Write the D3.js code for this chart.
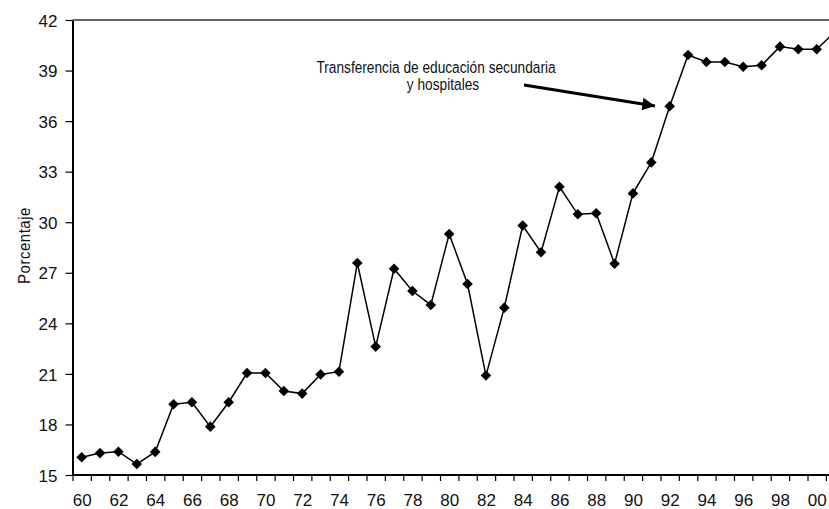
<!DOCTYPE html>
<html>
<head>
<meta charset="utf-8">
<script src="https://cdn.jsdelivr.net/npm/d3@7"></script>
<style>
  body { margin: 0; background: #fff; }
  svg { display: block; }
  .tick text { font-family: "Liberation Sans", Arial, sans-serif; font-size: 17px; fill: #111; }
  .lbl { font-family: "Liberation Sans", Arial, sans-serif; fill: #111; }
</style>
</head>
<body>
<script>
// años (1960-2001) y porcentaje
var years = [1960,1961,1962,1963,1964,1965,1966,1967,1968,1969,
             1970,1971,1972,1973,1974,1975,1976,1977,1978,1979,
             1980,1981,1982,1983,1984,1985,1986,1987,1988,1989,
             1990,1991,1992,1993,1994,1995,1996,1997,1998,1999,
             2000,2001];
var values = [16.05,16.3,16.38,15.65,16.37,19.2,19.32,17.87,19.32,21.05,
              21.05,19.98,19.83,20.97,21.13,27.58,22.62,27.24,25.92,25.09,
              29.3,26.33,20.9,24.93,29.8,28.22,32.1,30.47,30.53,27.54,
              31.71,33.55,36.88,39.92,39.51,39.51,39.23,39.31,40.42,40.26,
              40.26,41.3];
var yTicks = [15,18,21,24,27,30,33,36,39,42];
var xLabelYears = [1960,1962,1964,1966,1968,1970,1972,1974,1976,1978,1980,
                   1982,1984,1986,1988,1990,1992,1994,1996,1998,2000];

(function(){
var width = 829, height = 509;
var mLeft = 72.5, mTop = 20, mBottom = 475;
var step = 18.375;

var data = years.map(function(yr, i){ return {year: yr, v: values[i]}; });

var x = d3.scaleLinear()
    .domain([1959.5, 2001.5])
    .range([mLeft, mLeft + 42 * step]);
var y = d3.scaleLinear()
    .domain([15, 42])
    .range([mBottom, mTop]);

var svg = d3.select("body").append("svg")
    .attr("width", width).attr("height", height);

// borde superior del área de trazado
svg.append("line")
    .attr("x1", mLeft).attr("x2", width)
    .attr("y1", y(42)).attr("y2", y(42))
    .attr("stroke", "#333").attr("stroke-width", 1.5);

// eje X: marcas entre categorías
var boundaries = years.map(function(d){ return d - 0.5; });
svg.append("g")
    .attr("transform", "translate(0," + mBottom + ")")
    .call(d3.axisBottom(x).tickValues(boundaries).tickSize(6).tickSizeOuter(0).tickFormat(""))
    .call(function(g){
      g.select(".domain").attr("stroke", "#000").attr("stroke-width", 2).attr("d", "M" + mLeft + ",0H" + width);
      g.selectAll(".tick line").attr("stroke", "#000").attr("stroke-width", 1.2);
    });

svg.append("g")
    .attr("transform", "translate(0," + mBottom + ")")
    .call(d3.axisBottom(x).tickValues(xLabelYears).tickSize(0)
      .tickFormat(function(d){ return ("0" + (d % 100)).slice(-2); }))
    .call(function(g){
      g.select(".domain").remove();
      g.selectAll(".tick text").attr("dy", 0).attr("y", 31);
    });

// eje Y
svg.append("g")
    .attr("transform", "translate(" + mLeft + ",0)")
    .call(d3.axisLeft(y).tickValues(yTicks).tickSize(7).tickSizeOuter(0).tickPadding(8))
    .call(function(g){
      g.select(".domain").attr("stroke", "#000").attr("stroke-width", 2);
      g.selectAll(".tick line").attr("stroke", "#000").attr("stroke-width", 1.2);
      g.selectAll(".tick text").attr("dy", "0.36em");
    });

svg.append("text")
    .attr("class", "lbl")
    .attr("text-anchor", "middle")
    .attr("transform", "translate(30," + ((mTop + mBottom) / 2 - 2) + ")rotate(-90)scale(0.88,1)")
    .style("font-size", "17px")
    .style("letter-spacing", "0.6px")
    .text("Porcentaje");

// serie
var line = d3.line()
    .x(function(d){ return x(d.year); })
    .y(function(d){ return y(d.v); });

svg.append("path")
    .attr("d", line(data))
    .attr("fill", "none")
    .attr("stroke", "#000")
    .attr("stroke-width", 1.5);

svg.selectAll(".pt")
    .data(data)
    .enter().append("path")
    .attr("class", "pt")
    .attr("d", d3.symbol(d3.symbolSquare, 56))
    .attr("transform", function(d){ return "translate(" + x(d.year) + "," + y(d.v) + ")rotate(45)"; })
    .attr("fill", "#000");

// anotación
svg.append("defs").append("marker")
    .attr("id", "head")
    .attr("viewBox", "0 0 10 10")
    .attr("refX", 10).attr("refY", 5)
    .attr("markerWidth", 5.5).attr("markerHeight", 4.2)
    .attr("markerUnits", "strokeWidth")
    .attr("orient", "auto")
  .append("path")
    .attr("d", "M0,0L10,5L0,10Z")
    .attr("fill", "#000");

svg.append("line")
    .attr("x1", 524).attr("y1", 85)
    .attr("x2", 655).attr("y2", 106)
    .attr("stroke", "#000")
    .attr("stroke-width", 3)
    .attr("marker-end", "url(#head)");

svg.append("text")
    .attr("class", "lbl")
    .attr("text-anchor", "middle")
    .attr("transform", "translate(436,73)scale(0.83,1)")
    .style("font-size", "16.5px")
    .text("Transferencia de educación secundaria");

svg.append("text")
    .attr("class", "lbl")
    .attr("text-anchor", "middle")
    .attr("transform", "translate(443,90)scale(0.83,1)")
    .style("font-size", "16.5px")
    .text("y hospitales");
})();
</script>
</body>
</html>
